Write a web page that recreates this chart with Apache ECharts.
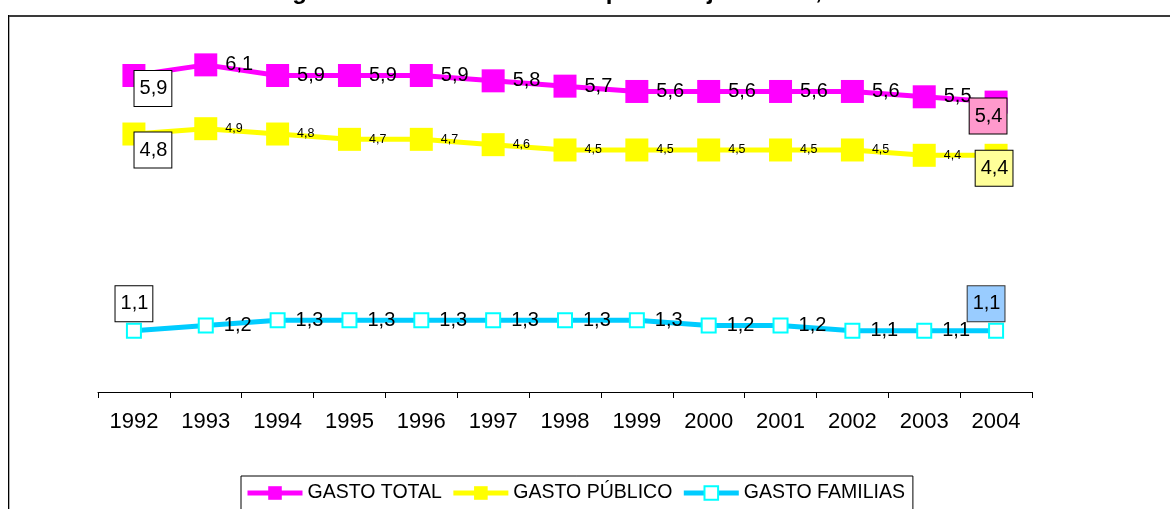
<!DOCTYPE html>
<html>
<head>
<meta charset="utf-8">
<script src="https://cdn.jsdelivr.net/npm/echarts@6/dist/echarts.min.js"></script>
<style>
  html, body { margin: 0; padding: 0; background: #fff; }
  #chart { width: 1170px; height: 509px; }
</style>
</head>
<body>
<div id="chart"></div>
<script>
// Gasto en educación como porcentaje del PIB, 1992-2004
const years = ['1992', '1993', '1994', '1995', '1996', '1997', '1998', '1999', '2000', '2001', '2002', '2003', '2004'];
const gastoTotal    = [5.9, 6.1, 5.9, 5.9, 5.9, 5.8, 5.7, 5.6, 5.6, 5.6, 5.6, 5.5, 5.4];
const gastoPublico  = [4.8, 4.9, 4.8, 4.7, 4.7, 4.6, 4.5, 4.5, 4.5, 4.5, 4.5, 4.4, 4.4];
const gastoFamilias = [1.1, 1.2, 1.3, 1.3, 1.3, 1.3, 1.3, 1.3, 1.2, 1.2, 1.1, 1.1, 1.1];
const seriesNames = ['GASTO TOTAL', 'GASTO PÚBLICO', 'GASTO FAMILIAS'];

const FONT = 'Arial, "Liberation Sans", sans-serif';
const comma = v => String(v).replace('.', ',');

// boxed label used on the first and last point of each series
function boxLabel(offset, bg, border) {
  return {
    show: true,
    position: 'inside',
    offset: offset,
    fontSize: 20,
    fontFamily: FONT,
    color: '#000',
    lineHeight: 20,
    padding: [8, 4, 7, 5],
    backgroundColor: bg,
    borderColor: border,
    borderWidth: 1
  };
}

function withEnds(values, firstLabel, lastLabel) {
  return values.map((v, i) => {
    if (i === 0) return { value: v, label: firstLabel };
    if (i === values.length - 1) return { value: v, label: lastLabel };
    return v;
  });
}

const chart = echarts.init(document.getElementById('chart'), null, { renderer: 'canvas' });

chart.setOption({
  animation: false,
  backgroundColor: '#fff',
  title: {
    text: 'Figura 1. Gasto educativo en porcentaje del PIB, 1992-2004',
    left: 266,
    top: -25,
    textStyle: { fontFamily: FONT, fontSize: 24, fontWeight: 'bold', color: '#000' }
  },
  graphic: [
    { type: 'rect', shape: { x: 8, y: 15, width: 1170, height: 2 }, style: { fill: '#3a3a3a' }, silent: true },
    { type: 'rect', shape: { x: 8, y: 15, width: 1, height: 500 }, style: { fill: '#000' }, silent: true },
    { type: 'rect', shape: { x: 9, y: 17, width: 1, height: 500 }, style: { fill: '#b0b0b0' }, silent: true }
  ],
  grid: { left: 98, right: 138, top: 17, bottom: 117, containLabel: false },
  xAxis: {
    type: 'category',
    data: years,
    boundaryGap: true,
    axisLine: { onZero: false, lineStyle: { color: '#000', width: 1 } },
    axisTick: { show: true, length: 6, lineStyle: { color: '#000' } },
    axisLabel: { fontFamily: FONT, fontSize: 22, color: '#000', margin: 19 },
    splitLine: { show: false }
  },
  yAxis: {
    type: 'value',
    min: -0.05,
    max: 7,
    show: false
  },
  legend: {
    data: seriesNames,
    left: 241,
    top: 476,
    padding: [7, 8, 8, 4],
    itemGap: 9,
    itemWidth: 55,
    itemHeight: 17,
    borderColor: '#000',
    borderWidth: 1,
    backgroundColor: '#fff',
    lineStyle: { width: 5 },
    textStyle: { fontFamily: FONT, fontSize: 19.5, color: '#000' }
  },
  series: [
    {
      name: seriesNames[0],
      type: 'line',
      data: withEnds(gastoTotal,
        boxLabel([19, 13], '#fff', '#000'),
        boxLabel([-8, 14], '#FF99CC', '#000')),
      symbol: 'rect',
      symbolSize: 23,
      lineStyle: { color: '#FF00FF', width: 5 },
      itemStyle: { color: '#FF00FF' },
      label: {
        show: true,
        position: 'right',
        distance: 8,
        fontFamily: FONT,
        fontSize: 20,
        color: '#000',
        formatter: p => comma(p.value)
      },
      z: 3
    },
    {
      name: seriesNames[1],
      type: 'line',
      data: withEnds(gastoPublico,
        boxLabel([19, 16], '#fff', '#000'),
        boxLabel([-2, 13], '#FFFF99', '#000')),
      symbol: 'rect',
      symbolSize: 23,
      lineStyle: { color: '#FFFF00', width: 5 },
      itemStyle: { color: '#FFFF00' },
      label: {
        show: true,
        position: 'right',
        distance: 8,
        fontFamily: FONT,
        fontSize: 12.5,
        color: '#000',
        formatter: p => comma(p.value)
      },
      z: 3
    },
    {
      name: seriesNames[2],
      type: 'line',
      data: withEnds(gastoFamilias,
        boxLabel([0, -27], '#fff', '#000'),
        boxLabel([-10, -27], '#99CCFF', '#333')),
      symbol: 'emptyRect',
      symbolSize: 14,
      lineStyle: { color: '#00CCFF', width: 5 },
      itemStyle: { color: '#00FFFF', borderWidth: 2 },
      label: {
        show: true,
        position: 'right',
        distance: 10,
        fontFamily: FONT,
        fontSize: 20,
        color: '#000',
        formatter: p => comma(p.value)
      },
      z: 3
    }
  ]
});
</script>
</body>
</html>
